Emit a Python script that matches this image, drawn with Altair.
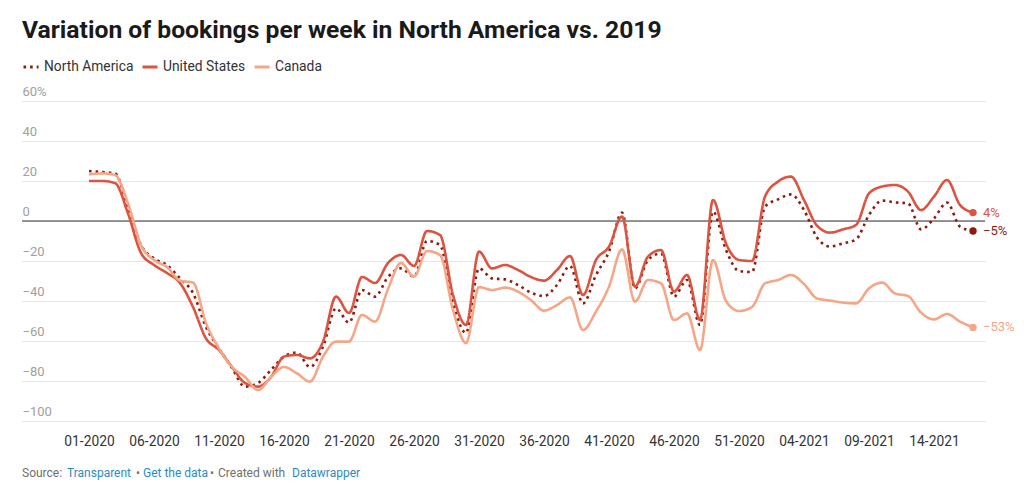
import altair as alt
import pandas as pd

TITLE = "Variation of bookings per week in North America vs. 2019"

weeks = [f"{w:02d}-2020" for w in range(1, 53)] + [f"{w:02d}-2021" for w in range(1, 18)]
tick_idx = list(range(0, len(weeks), 5))

series_names = ["North America", "United States", "Canada"]
series_colors = ["#8e1b10", "#dc5440", "#f5a686"]

north_america = [25, 24.5, 23.8, 7, -12, -18.7, -22, -28.7, -36, -53,
                 -63.7, -73.5, -82.8, -81, -74.5, -67.8, -65.8, -73, -62.8, -43.7,
                 -50.8, -34.5, -37.8, -28, -23.7, -27.8, -10, -12, -41, -56,
                 -23.7, -28.7, -29.2, -32, -35.8, -37.5, -32, -22.5, -41.2, -27,
                 -15.3, 4.2, -33.7, -19.5, -16.2, -37.8, -29.5, -52, 4.7, -14.5,
                 -25, -25.5, 7.2, 10.8, 13.3, 5.5, -8.2, -12.8, -11.2, -9.2,
                 3, 10.2, 9.3, 8.8, -4.2, 1.3, 9.2, -2.8, -5]
united_states = [20, 20, 19, 3.8, -16, -22, -26, -31, -43, -58.7,
                 -64.5, -73, -81, -82.8, -78, -67.8, -67, -68.7, -60.3, -37.8,
                 -46, -28, -31, -21, -17, -22.5, -5, -7, -37, -52,
                 -15.3, -23.7, -22, -24.5, -28, -29.8, -24.5, -17.5, -37, -19.5,
                 -12.8, 2.2, -32.8, -17.8, -14.5, -35.3, -27, -49.5, 10.5, -11.2,
                 -19.5, -20, 12.2, 19.7, 22.2, 10.5, -2.3, -5.8, -4.2, -2,
                 13.8, 17.2, 18, 14.7, 5.5, 12.2, 20.5, 8, 4.2]
canada = [23.3, 23.8, 23, 8.8, -12, -19.5, -23, -29.8, -30.8, -51,
          -63.7, -73, -78, -84.5, -78, -73, -76.2, -80.3, -67.8, -60.3,
          -60.3, -47, -50.3, -34, -21, -27.8, -15, -17, -44.5, -61,
          -33, -34.5, -33.3, -35.3, -39.6, -44.8, -42, -38.2, -54.5, -45.3,
          -32.8, -14.2, -40.3, -29.5, -31.2, -49.5, -46.2, -64.5, -19.5, -40,
          -45, -43, -31.2, -29.5, -27, -31.5, -38.7, -39.8, -40.8, -41.2,
          -33.7, -30.8, -36.2, -37.5, -45.8, -49.2, -46.5, -50.3, -53.2]

y_ticks = [-100, -80, -60, -40, -20, 0, 20, 40, 60]

rows = []
for name, vals in zip(series_names, [north_america, united_states, canada]):
    for i, (w, v) in enumerate(zip(weeks, vals)):
        rows.append({"idx": i, "week": w, "series": name, "value": v, "last": i == len(weeks) - 1})
df = pd.DataFrame(rows)

FONT = "Roboto"
W, H = 963, 320
STEP = 13.0
FIRST = 67.0
x_domain = [-FIRST / STEP, (W - FIRST) / STEP]
y_scale = alt.Scale(domain=[-100, 60], nice=False, zero=False)
x_scale = alt.Scale(domain=x_domain, nice=False, zero=False)

label_array = "[" + ",".join(f"'{w}'" for w in weeks) + "]"

x_axis = alt.Axis(values=tick_idx, title=None, labelAngle=0, domain=False,
                  ticks=False, tickSize=0, labelPadding=13, labelFontSize=13.8,
                  labelFont=FONT, labelColor="#333333", grid=False,
                  labelFlush=False, labelOverlap=False,
                  labelExpr=label_array + "[datum.value]")
y_axis = alt.Axis(values=y_ticks, title=None, domain=False, ticks=False, tickSize=0,
                  labelAlign="left", labelBaseline="bottom", labelPadding=0,
                  labelOffset=-3, labelFontSize=13, labelFont=FONT,
                  labelOverlap=False, labelFlush=False,
                  labelColor="#a0a0a0", gridColor="#e6e6e6", gridWidth=1,
                  labelExpr="datum.value == 60 ? datum.label + '%' : datum.label")

x_enc = alt.X("idx:Q", scale=x_scale, axis=x_axis)
y_enc = alt.Y("value:Q", scale=y_scale, axis=y_axis)

legend = alt.Legend(orient="none", legendX=0, legendY=-43, direction="horizontal", title=None,
                    symbolType="stroke", symbolSize=225, symbolStrokeWidth=3,
                    labelFontSize=13.8, labelFont=FONT, labelColor="#333333",
                    columnPadding=2, labelOffset=4)

color_scale = alt.Scale(domain=series_names, range=series_colors)

base = alt.Chart(df)

zero = alt.Chart(pd.DataFrame({"value": [0]})).mark_rule(color="#333333", strokeWidth=1).encode(
    y=y_enc)

lines = base.mark_line(interpolate="monotone", strokeWidth=2.6).encode(
    x=x_enc, y=y_enc,
    color=alt.Color("series:N", scale=color_scale, legend=legend),
    strokeDash=alt.StrokeDash("series:N",
                              scale=alt.Scale(domain=series_names, range=[[2.6, 4], [1, 0], [1, 0]]),
                              legend=legend),
    order=alt.Order("idx:Q"),
)

ends = base.transform_filter("datum.last").mark_circle(size=55, opacity=1).encode(
    x=x_enc, y=y_enc,
    fill=alt.Fill("series:N", scale=color_scale, legend=None))

end_labels = base.transform_filter("datum.last").transform_calculate(
    lab="format(datum.value, '.0f') + '%'"
).mark_text(align="left", baseline="middle", dx=10, fontSize=13, font=FONT).encode(
    x=x_enc, y=y_enc, text="lab:N",
    fill=alt.Fill("series:N", scale=color_scale, legend=None))

title = alt.Chart(pd.DataFrame({"t": [TITLE]})).mark_text(
    align="left", baseline="alphabetic", fontSize=24.7, fontWeight="bold", font=FONT, color="#1a1a1a"
).encode(x=alt.value(0), y=alt.value(-63), text="t:N")

footer_parts = [("Source:", "#707070", 0), ("Transparent", "#2e8bc0", 45), ("•", "#707070", 114),
                ("Get the data", "#2e8bc0", 121), ("•", "#707070", 188),
                ("Created with", "#707070", 196), ("Datawrapper", "#2e8bc0", 270)]
footer_layers = []
for txt, col, xo in footer_parts:
    footer_layers.append(
        alt.Chart(pd.DataFrame({"t": [txt]})).mark_text(
            align="left", baseline="middle", fontSize=12, font=FONT, color=col
        ).encode(x=alt.value(xo), y=alt.value(372), text="t:N"))

chart = alt.layer(zero, lines, ends, end_labels, title, *footer_layers).properties(
    width=W, height=H,
    padding={"left": 14, "top": 93, "right": 31, "bottom": 59},
    autosize=alt.AutoSizeParams(type="none"),
    background="white",
).configure_view(stroke=None)

chart.save("out.html", embed_options={"renderer": "svg", "actions": False})
